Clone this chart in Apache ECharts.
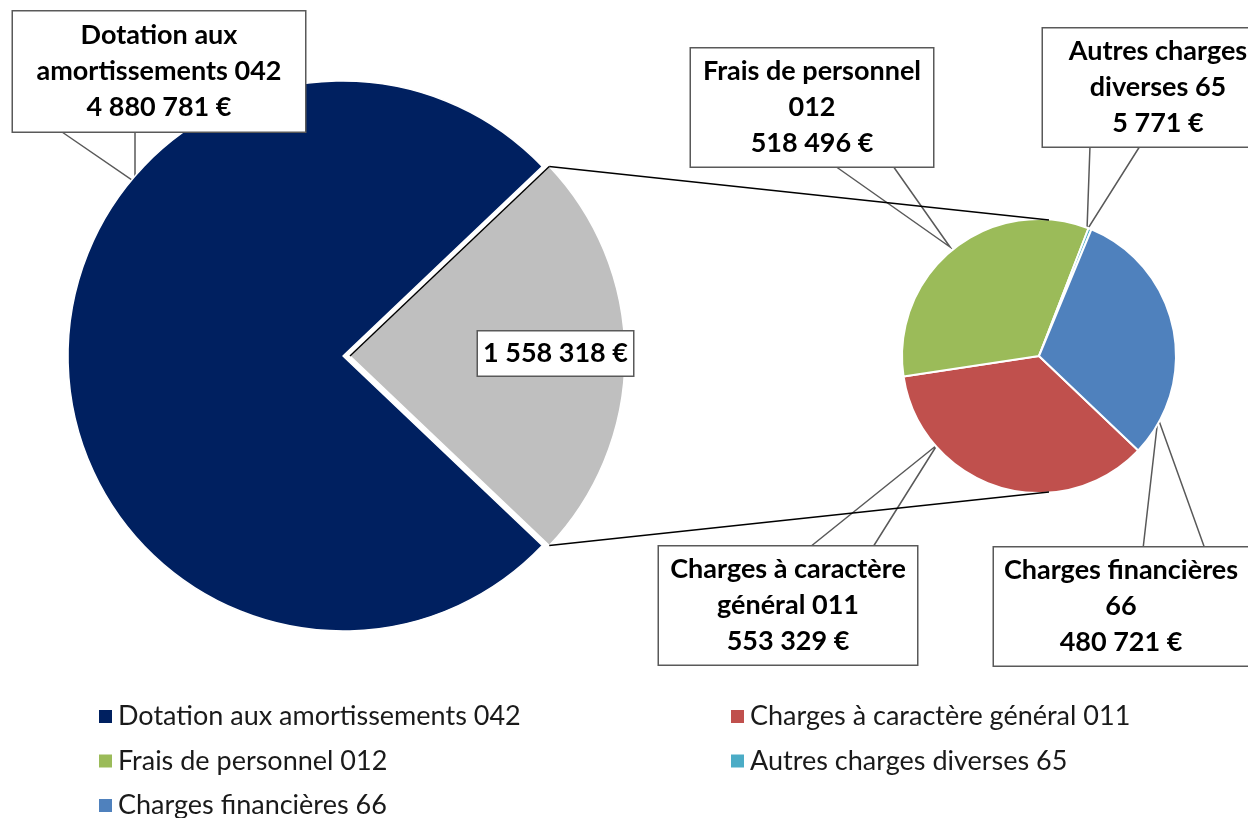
<!DOCTYPE html>
<html>
<head>
<meta charset="utf-8">
<script src="https://cdn.jsdelivr.net/npm/echarts@6/dist/echarts.min.js"></script>
<style>
  html, body { margin: 0; padding: 0; background: #fff; }
  #chart { width: 1248px; height: 818px; }
</style>
</head>
<body>
<div id="chart"></div>
<script>
// camembert principal
const mainNames = ['Dotation aux amortissements 042', 'Autres dépenses'];
const mainValues = [4880781, 1558318];
// détail de la part grise
const detailNames = ['Charges à caractère général 011', 'Frais de personnel 012', 'Autres charges diverses 65', 'Charges financières 66'];
const detailValues = [553329, 518496, 5771, 480721];
// texte des étiquettes (retours à la ligne comme dans Excel)
const mainLabels = ['Dotation aux\namortissements 042', ''];
const detailLabels = ['Charges à caractère\ngénéral 011', 'Frais de personnel\n012', 'Autres charges\ndiverses 65', 'Charges financières\n66'];
// légende : deux colonnes
const legendLeft = ['Dotation aux amortissements 042', 'Frais de personnel 012', 'Charges financières 66'];
const legendRight = ['Charges à caractère général 011', 'Autres charges diverses 65'];

const mainColors = ['#002060', '#BFBFBF'];
const detailColors = ['#C0504D', '#9BBB59', '#4BACC6', '#4F81BD'];

// mise en page
const bigC = [343, 356], bigR = 275, explode = 7;
const smallC = [1039, 356], smallR = 137;
const font = 'Lato';
const fontSize = 27;

// boîtes des étiquettes : centre, largeur, pointe (base gauche, pointe, base droite)
const mainBoxes = [
  { x: 159, y: 71.5, w: 292, tip: [[62, 132], [135, 182], [135, 132]] },
  { x: 555.5, y: 353.5, w: 155 }
];
const detailBoxes = [
  { x: 788, y: 605.5, w: 258, tip: [[810, 547], [937, 445], [873, 547]] },
  { x: 812, y: 107.5, w: 242, tip: [[835, 166], [950, 247], [893, 166]] },
  { x: 1158, y: 87.5, w: 230, tip: [[1090, 146], [1087, 230], [1140, 146]] },
  { x: 1121, y: 606.5, w: 254, tip: [[1143, 549], [1158, 418], [1205, 549]] }
];

function euro(v) {
  return String(v).replace(/\B(?=(\d{3})+(?!\d))/g, ' ') + ' €';
}

const total = mainValues.reduce((a, b) => a + b, 0);
const half = mainValues[1] / total * Math.PI; // demi-angle de la part grise
const startBig = -half * 180 / Math.PI;

// deux séries superposées : la part grise est décalée vers la droite
function mainData(shown) {
  return mainNames.map((n, i) => {
    const on = i === shown;
    return {
      name: n,
      value: mainValues[i],
      itemStyle: on ? { color: mainColors[i] } : { color: 'transparent', borderWidth: 0 },
      label: on ? { width: mainBoxes[i].w - 16, padding: i === 0 ? [6, 8] : [4, 8] } : { show: false },
      labelLine: { show: on && i === 0 }
    };
  });
}
const detailData = detailNames.map((n, i) => ({
  name: n,
  value: detailValues[i],
  itemStyle: { color: detailColors[i] },
  label: { width: detailBoxes[i].w - 16 }
}));

const labelStyle = {
  show: true,
  position: 'outside',
  color: '#000',
  fontFamily: font,
  fontWeight: 'bold',
  fontSize: fontSize,
  lineHeight: 36,
  align: 'center',
  overflow: 'none',
  backgroundColor: '#fff',
  borderColor: '#595959',
  borderWidth: 1.5,
  padding: [5, 8]
};
const lineStyle = { show: true, length: 5, length2: 0, lineStyle: { color: '#595959', width: 1.5 } };

function placeLabel(b) {
  const out = { x: b.x, y: b.y, align: 'center', verticalAlign: 'middle' };
  if (b.tip) out.labelLinePoints = b.tip;
  return out;
}

// lignes de liaison entre les deux camemberts
const apex = [bigC[0] + explode, bigC[1]];
const topCorner = [apex[0] + bigR * Math.cos(half), bigC[1] - bigR * Math.sin(half)];
const botCorner = [apex[0] + bigR * Math.cos(half), bigC[1] + bigR * Math.sin(half)];
const smallTop = [smallC[0] + 10, smallC[1] - smallR + 1];
const smallBot = [smallC[0] + 10, smallC[1] + smallR - 1];

// une légende par entrée, en deux colonnes
const legendText = { fontFamily: font, fontSize: fontSize, color: '#1a1a1a' };
const legends = [];
legendLeft.forEach((n, i) => legends.push({ data: [n], left: 97, top: 703 + i * 44.5 }));
legendRight.forEach((n, i) => legends.push({ data: [n], left: 729, top: 703 + i * 44.5 }));
legends.forEach(l => Object.assign(l, {
  orient: 'horizontal', itemWidth: 15, itemHeight: 15, icon: 'rect', padding: 0,
  textStyle: legendText, selectedMode: false
}));

const bigSeries = {
  type: 'pie',
  radius: bigR,
  startAngle: startBig,
  clockwise: true,
  avoidLabelOverlap: false,
  emphasis: { disabled: true },
  itemStyle: { borderColor: '#fff', borderWidth: 1.5 },
  label: Object.assign({}, labelStyle, {
    formatter: p => (mainLabels[p.dataIndex] ? mainLabels[p.dataIndex] + '\n' : '') + euro(p.value)
  }),
  labelLine: lineStyle,
  labelLayout: p => placeLabel(mainBoxes[p.dataIndex])
};

const chart = echarts.init(document.getElementById('chart'));
chart.setOption({
  animation: false,
  backgroundColor: '#fff',
  legend: legends,
  graphic: [
    { type: 'line', z: 100, shape: { x1: topCorner[0], y1: topCorner[1], x2: smallTop[0], y2: smallTop[1] }, style: { stroke: '#000', lineWidth: 1.5 } },
    { type: 'line', z: 100, shape: { x1: botCorner[0], y1: botCorner[1], x2: smallBot[0], y2: smallBot[1] }, style: { stroke: '#000', lineWidth: 1.5 } },
    { type: 'line', z: 100, shape: { x1: apex[0], y1: apex[1], x2: topCorner[0], y2: topCorner[1] }, style: { stroke: '#000', lineWidth: 1.5 } }
  ],
  series: [
    Object.assign({}, bigSeries, { center: bigC, data: mainData(0) }),
    Object.assign({}, bigSeries, { center: apex, data: mainData(1) }),
    {
      type: 'pie',
      center: smallC,
      radius: smallR,
      startAngle: startBig,
      clockwise: true,
      avoidLabelOverlap: false,
      emphasis: { disabled: true },
      itemStyle: { borderColor: '#fff', borderWidth: 2 },
      label: Object.assign({}, labelStyle, {
        formatter: p => detailLabels[p.dataIndex] + '\n' + euro(p.value)
      }),
      labelLine: lineStyle,
      labelLayout: p => placeLabel(detailBoxes[p.dataIndex]),
      data: detailData
    }
  ]
});
</script>
</body>
</html>
